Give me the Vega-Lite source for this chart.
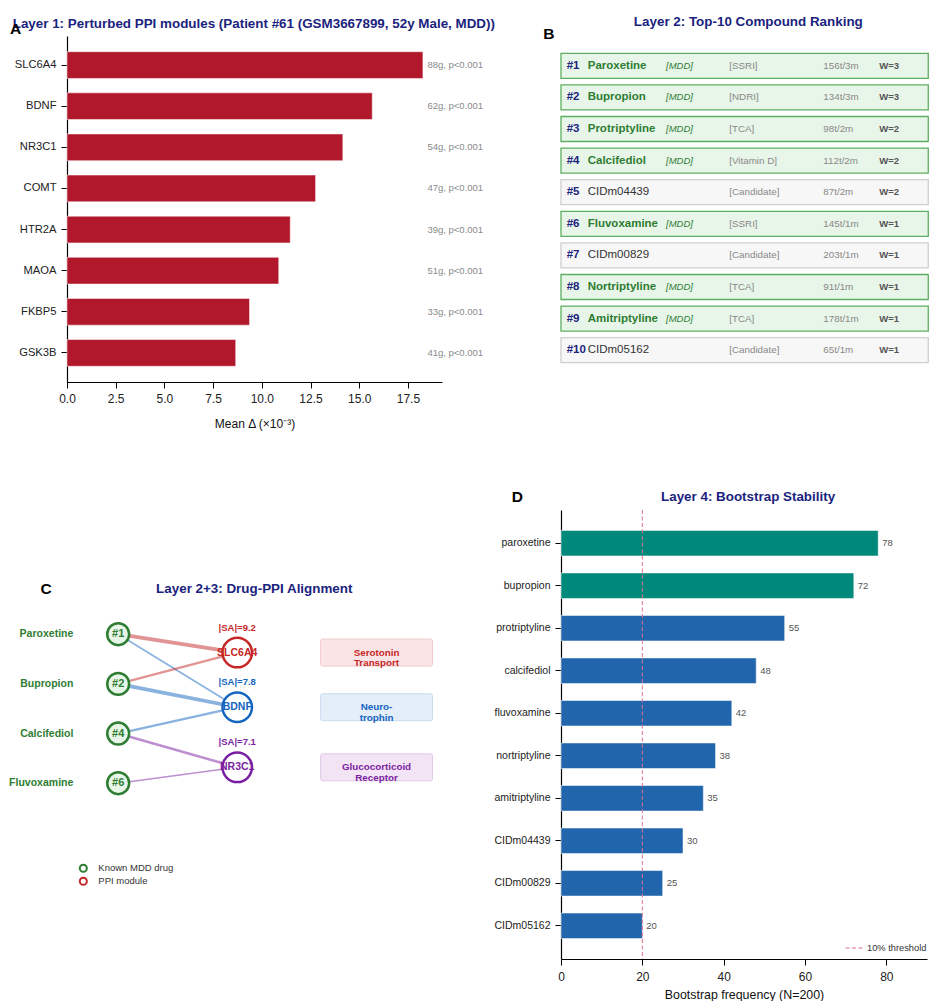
{
  "$schema": "https://vega.github.io/schema/vega-lite/v6.json",
  "padding": {"left": 9, "top": 14, "right": 0, "bottom": 0},
  "config": {
    "font": "Liberation Sans",
    "view": {"stroke": null},
    "axis": {"grid": false, "labelFlush": false, "domainColor": "#000000", "domainWidth": 1.2, "tickColor": "#000000", "tickWidth": 1, "tickSize": 6, "labelColor": "#222222", "titleColor": "#111111", "titleFontWeight": "normal"},
    "text": {"font": "Liberation Sans"}
  },
  "datasets": {
    "genes": [
      {"gene": "SLC6A4", "delta": 18.27, "note": "88g, p<0.001"},
      {"gene": "BDNF", "delta": 15.67, "note": "62g, p<0.001"},
      {"gene": "NR3C1", "delta": 14.16, "note": "54g, p<0.001"},
      {"gene": "COMT", "delta": 12.76, "note": "47g, p<0.001"},
      {"gene": "HTR2A", "delta": 11.46, "note": "39g, p<0.001"},
      {"gene": "MAOA", "delta": 10.87, "note": "51g, p<0.001"},
      {"gene": "FKBP5", "delta": 9.37, "note": "33g, p<0.001"},
      {"gene": "GSK3B", "delta": 8.66, "note": "41g, p<0.001"}
    ],
    "ranking": [
      {"rank": "#1", "name": "Paroxetine", "kind": "MDD", "tag": "[MDD]", "cls": "[SSRI]", "stats": "156t/3m", "w": "W=3"},
      {"rank": "#2", "name": "Bupropion", "kind": "MDD", "tag": "[MDD]", "cls": "[NDRI]", "stats": "134t/3m", "w": "W=3"},
      {"rank": "#3", "name": "Protriptyline", "kind": "MDD", "tag": "[MDD]", "cls": "[TCA]", "stats": "98t/2m", "w": "W=2"},
      {"rank": "#4", "name": "Calcifediol", "kind": "MDD", "tag": "[MDD]", "cls": "[Vitamin D]", "stats": "112t/2m", "w": "W=2"},
      {"rank": "#5", "name": "CIDm04439", "kind": "Candidate", "tag": "", "cls": "[Candidate]", "stats": "87t/2m", "w": "W=2"},
      {"rank": "#6", "name": "Fluvoxamine", "kind": "MDD", "tag": "[MDD]", "cls": "[SSRI]", "stats": "145t/1m", "w": "W=1"},
      {"rank": "#7", "name": "CIDm00829", "kind": "Candidate", "tag": "", "cls": "[Candidate]", "stats": "203t/1m", "w": "W=1"},
      {"rank": "#8", "name": "Nortriptyline", "kind": "MDD", "tag": "[MDD]", "cls": "[TCA]", "stats": "91t/1m", "w": "W=1"},
      {"rank": "#9", "name": "Amitriptyline", "kind": "MDD", "tag": "[MDD]", "cls": "[TCA]", "stats": "178t/1m", "w": "W=1"},
      {"rank": "#10", "name": "CIDm05162", "kind": "Candidate", "tag": "", "cls": "[Candidate]", "stats": "65t/1m", "w": "W=1"}
    ],
    "drugs": [
      {"drug": "Paroxetine", "rank": "#1", "slot": 4},
      {"drug": "Bupropion", "rank": "#2", "slot": 3},
      {"drug": "Calcifediol", "rank": "#4", "slot": 2},
      {"drug": "Fluvoxamine", "rank": "#6", "slot": 1}
    ],
    "modules": [
      {"module": "SLC6A4", "slot": 3.63, "sa": "|SA|=9.2", "category": "Serotonin\nTransport"},
      {"module": "BDNF", "slot": 2.53, "sa": "|SA|=7.8", "category": "Neuro-\ntrophin"},
      {"module": "NR3C1", "slot": 1.32, "sa": "|SA|=7.1", "category": "Glucocorticoid\nReceptor"}
    ],
    "edges": [
      {"drug": "Paroxetine", "module": "SLC6A4", "score": 0.9},
      {"drug": "Paroxetine", "module": "BDNF", "score": 0.4},
      {"drug": "Bupropion", "module": "SLC6A4", "score": 0.55},
      {"drug": "Bupropion", "module": "BDNF", "score": 0.9},
      {"drug": "Calcifediol", "module": "BDNF", "score": 0.55},
      {"drug": "Calcifediol", "module": "NR3C1", "score": 0.6},
      {"drug": "Fluvoxamine", "module": "NR3C1", "score": 0.35}
    ],
    "bootstrap": [
      {"compound": "paroxetine", "freq": 78, "tier": "top"},
      {"compound": "bupropion", "freq": 72, "tier": "top"},
      {"compound": "protriptyline", "freq": 55, "tier": "other"},
      {"compound": "calcifediol", "freq": 48, "tier": "other"},
      {"compound": "fluvoxamine", "freq": 42, "tier": "other"},
      {"compound": "nortriptyline", "freq": 38, "tier": "other"},
      {"compound": "amitriptyline", "freq": 35, "tier": "other"},
      {"compound": "CIDm04439", "freq": 30, "tier": "other"},
      {"compound": "CIDm00829", "freq": 25, "tier": "other"},
      {"compound": "CIDm05162", "freq": 20, "tier": "other"}
    ]
  },
  "columns": 2,
  "bounds": "flush",
  "align": "each",
  "spacing": {"row": 128, "column": 119},
  "resolve": {
    "scale": {"color": "independent", "fill": "independent", "stroke": "independent", "strokeDash": "independent", "strokeWidth": "independent"},
    "legend": {"strokeDash": "independent"}
  },
  "concat": [
    {
      "width": 375,
      "height": 346,
      "layer": [
        {
          "data": {"name": "genes"},
          "layer": [
            {
              "mark": {"type": "bar", "color": "#b2182b", "stroke": "#ffffff", "strokeWidth": 0.5},
              "encoding": {
                "y": {"field": "gene", "type": "nominal", "sort": null, "scale": {"paddingInner": 0.35, "paddingOuter": 0.3825}, "axis": {"title": null, "labelFontSize": 11.2, "labelPadding": 5, "tickSize": 6}},
                "x": {"field": "delta", "type": "quantitative", "scale": {"domain": [0, 19.25], "nice": false}, "axis": {"title": "Mean Δ (×10⁻³)", "values": [0, 2.5, 5, 7.5, 10, 12.5, 15, 17.5], "format": ".1f", "labelFontSize": 12, "titleFontSize": 12, "labelPadding": 5, "titlePadding": 14}}
              }
            },
            {
              "mark": {"type": "text", "align": "left", "baseline": "middle", "fontSize": 9.5, "color": "#8a8a8a"},
              "encoding": {
                "y": {"field": "gene", "type": "nominal", "sort": null},
                "x": {"datum": 18.5, "type": "quantitative"},
                "text": {"field": "note"}
              }
            }
          ]
        },
        {
          "data": {"values": [{"panel": "A", "heading": "Layer 1: Perturbed PPI modules (Patient #61 (GSM3667899, 52y Male, MDD))"}]},
          "layer": [
            {
              "mark": {"type": "text", "align": "center", "baseline": "middle", "fontSize": 13.4, "fontWeight": "bold", "color": "#1a237e"},
              "encoding": {
                "x": {"datum": 9.59, "type": "quantitative"},
                "y": {"datum": 1.0355, "type": "quantitative", "scale": {"domain": [0, 1], "nice": false, "zero": false}, "axis": null},
                "text": {"field": "heading"}
              }
            },
            {
              "mark": {"type": "text", "align": "left", "baseline": "middle", "fontSize": 15.5, "fontWeight": "bold", "color": "#000000"},
              "encoding": {
                "x": {"datum": -2.93, "type": "quantitative"},
                "y": {"datum": 1.021, "type": "quantitative", "axis": null},
                "text": {"field": "panel"}
              }
            }
          ]
        }
      ],
      "resolve": {"scale": {"y": "independent"}}
    },
    {
      "width": 368,
      "height": 330,
      "layer": [
        {
          "data": {"name": "ranking"},
          "encoding": {
            "y": {"field": "rank", "type": "nominal", "sort": null, "scale": {"paddingInner": 0.209, "paddingOuter": 0.326, "align": 0.84}, "axis": null}
          },
          "layer": [
            {
              "mark": {"type": "rect", "strokeWidth": 1.3},
              "encoding": {
                "x": {"datum": 0, "type": "quantitative", "scale": {"domain": [0, 100], "nice": false, "zero": false}, "axis": null},
                "x2": {"datum": 99.8},
                "fill": {"field": "kind", "type": "nominal", "scale": {"domain": ["MDD", "Candidate"], "range": ["#e8f5e9", "#f7f7f7"]}, "legend": null},
                "stroke": {"field": "kind", "type": "nominal", "scale": {"domain": ["MDD", "Candidate"], "range": ["#5cae60", "#cfcfcf"]}, "legend": null}
              }
            },
            {
              "mark": {"type": "text", "align": "left", "baseline": "middle", "fontSize": 11.5, "fontWeight": "bold", "color": "#1a237e"},
              "encoding": {"x": {"datum": 1.55, "type": "quantitative", "axis": null}, "text": {"field": "rank"}}
            },
            {
              "transform": [{"filter": "datum.kind === 'MDD'"}],
              "mark": {"type": "text", "align": "left", "baseline": "middle", "fontSize": 11.5, "fontWeight": "bold", "color": "#2e7d32"},
              "encoding": {"x": {"datum": 7.26, "type": "quantitative", "axis": null}, "text": {"field": "name"}}
            },
            {
              "transform": [{"filter": "datum.kind === 'Candidate'"}],
              "mark": {"type": "text", "align": "left", "baseline": "middle", "fontSize": 11.5, "color": "#333333"},
              "encoding": {"x": {"datum": 7.26, "type": "quantitative", "axis": null}, "text": {"field": "name"}}
            },
            {
              "mark": {"type": "text", "align": "left", "baseline": "middle", "fontSize": 9.5, "fontStyle": "italic", "color": "#2e7d32"},
              "encoding": {"x": {"datum": 28.53, "type": "quantitative", "axis": null}, "text": {"field": "tag"}}
            },
            {
              "mark": {"type": "text", "align": "left", "baseline": "middle", "fontSize": 9.8, "color": "#888888"},
              "encoding": {"x": {"datum": 45.73, "type": "quantitative", "axis": null}, "text": {"field": "cls"}}
            },
            {
              "mark": {"type": "text", "align": "left", "baseline": "middle", "fontSize": 9.8, "color": "#888888"},
              "encoding": {"x": {"datum": 71.28, "type": "quantitative", "axis": null}, "text": {"field": "stats"}}
            },
            {
              "mark": {"type": "text", "align": "left", "baseline": "middle", "fontSize": 9.5, "fontWeight": "bold", "color": "#555555"},
              "encoding": {"x": {"datum": 86.5, "type": "quantitative", "axis": null}, "text": {"field": "w"}}
            }
          ]
        },
        {
          "data": {"values": [{"panel": "B", "heading": "Layer 2: Top-10 Compound Ranking"}]},
          "layer": [
            {
              "mark": {"type": "text", "align": "center", "baseline": "middle", "fontSize": 13.4, "fontWeight": "bold", "color": "#1a237e"},
              "encoding": {
                "x": {"datum": 50.9, "type": "quantitative", "axis": null},
                "y": {"datum": 1.0433, "type": "quantitative", "scale": {"domain": [0, 1], "nice": false, "zero": false}, "axis": null},
                "text": {"field": "heading"}
              }
            },
            {
              "mark": {"type": "text", "align": "left", "baseline": "middle", "fontSize": 15.5, "fontWeight": "bold", "color": "#000000"},
              "encoding": {
                "x": {"datum": -4.81, "type": "quantitative", "axis": null},
                "y": {"datum": 1.005, "type": "quantitative", "axis": null},
                "text": {"field": "panel"}
              }
            }
          ]
        }
      ],
      "resolve": {"scale": {"y": "independent"}}
    },
    {
      "width": 375,
      "height": 390,
      "layer": [
        {
          "data": {"name": "edges"},
          "transform": [
            {"lookup": "drug", "from": {"data": {"name": "drugs"}, "key": "drug", "fields": ["slot"]}, "as": ["dslot"]},
            {"lookup": "module", "from": {"data": {"name": "modules"}, "key": "module", "fields": ["slot"]}, "as": ["mslot"]}
          ],
          "mark": {"type": "rule", "opacity": 0.5, "strokeCap": "butt"},
          "encoding": {
            "x": {"datum": 1, "type": "quantitative", "scale": {"domain": [0.57, 3.72], "nice": false, "zero": false}, "axis": null},
            "x2": {"datum": 2},
            "y": {"field": "dslot", "type": "quantitative", "scale": {"domain": [-1.25, 6.4], "nice": false, "zero": false}, "axis": null},
            "y2": {"field": "mslot"},
            "color": {"field": "module", "type": "nominal", "scale": {"domain": ["SLC6A4", "BDNF", "NR3C1"], "range": ["#c62828", "#1565c0", "#7b1fa2"]}, "legend": null},
            "strokeWidth": {"field": "score", "type": "quantitative", "scale": {"domain": [0, 1], "range": [0, 4.2]}, "legend": null}
          }
        },
        {
          "data": {"name": "modules"},
          "mark": {"type": "bar", "orient": "horizontal", "height": 27, "strokeWidth": 1, "cornerRadius": 2},
          "encoding": {
            "x": {"datum": 2.7, "type": "quantitative", "axis": null},
            "x2": {"datum": 3.64},
            "y": {"field": "slot", "type": "quantitative", "axis": null},
            "fill": {"field": "module", "type": "nominal", "scale": {"domain": ["SLC6A4", "BDNF", "NR3C1"], "range": ["#fbe4e6", "#e4eef8", "#f2e4f4"]}, "legend": null},
            "stroke": {"field": "module", "type": "nominal", "scale": {"domain": ["SLC6A4", "BDNF", "NR3C1"], "range": ["#f2c9cd", "#c9dcef", "#e2c8e8"]}, "legend": null}
          }
        },
        {
          "data": {"name": "modules"},
          "mark": {"type": "text", "align": "center", "baseline": "middle", "fontSize": 9.8, "fontWeight": "bold", "lineBreak": "\n", "lineHeight": 10.5},
          "encoding": {
            "x": {"datum": 3.17, "type": "quantitative", "axis": null},
            "y": {"field": "slot", "type": "quantitative", "axis": null},
            "text": {"field": "category"},
            "color": {"field": "module", "type": "nominal", "legend": null}
          }
        },
        {
          "data": {"name": "modules"},
          "mark": {"type": "point", "shape": "circle", "filled": true, "color": "#ffffff", "opacity": 1, "size": 870},
          "encoding": {
            "x": {"datum": 2, "type": "quantitative", "axis": null},
            "y": {"field": "slot", "type": "quantitative", "axis": null}
          }
        },
        {
          "data": {"name": "modules"},
          "mark": {"type": "point", "shape": "circle", "filled": false, "opacity": 1, "size": 870, "strokeWidth": 2.5},
          "encoding": {
            "x": {"datum": 2, "type": "quantitative", "axis": null},
            "y": {"field": "slot", "type": "quantitative", "axis": null},
            "color": {"field": "module", "type": "nominal", "legend": null}
          }
        },
        {
          "data": {"name": "modules"},
          "mark": {"type": "text", "align": "center", "baseline": "middle", "fontSize": 10.5, "fontWeight": "bold"},
          "encoding": {
            "x": {"datum": 2, "type": "quantitative", "axis": null},
            "y": {"field": "slot", "type": "quantitative", "axis": null},
            "text": {"field": "module"},
            "color": {"field": "module", "type": "nominal", "legend": null}
          }
        },
        {
          "data": {"name": "modules"},
          "mark": {"type": "text", "align": "center", "baseline": "middle", "fontSize": 9.5, "fontWeight": "bold", "dy": -25},
          "encoding": {
            "x": {"datum": 2, "type": "quantitative", "axis": null},
            "y": {"field": "slot", "type": "quantitative", "axis": null},
            "text": {"field": "sa"},
            "color": {"field": "module", "type": "nominal", "legend": null}
          }
        },
        {
          "data": {"name": "drugs"},
          "mark": {"type": "point", "shape": "circle", "filled": true, "fill": "#e8f5e9", "stroke": "#2e7d32", "strokeWidth": 2.5, "opacity": 1, "size": 480},
          "encoding": {
            "x": {"datum": 1, "type": "quantitative", "axis": null},
            "y": {"field": "slot", "type": "quantitative", "axis": null}
          }
        },
        {
          "data": {"name": "drugs"},
          "mark": {"type": "text", "align": "center", "baseline": "middle", "fontSize": 11, "fontWeight": "bold", "color": "#2e7d32"},
          "encoding": {
            "x": {"datum": 1, "type": "quantitative", "axis": null},
            "y": {"field": "slot", "type": "quantitative", "axis": null},
            "text": {"field": "rank"}
          }
        },
        {
          "data": {"name": "drugs"},
          "mark": {"type": "text", "align": "right", "baseline": "middle", "fontSize": 10.5, "fontWeight": "bold", "color": "#2e7d32"},
          "encoding": {
            "x": {"datum": 0.623, "type": "quantitative", "axis": null},
            "y": {"field": "slot", "type": "quantitative", "axis": null},
            "text": {"field": "drug"}
          }
        },
        {
          "data": {"values": [{"panel": "C", "heading": "Layer 2+3: Drug-PPI Alignment"}]},
          "layer": [
            {
              "mark": {"type": "text", "align": "center", "baseline": "middle", "fontSize": 13.4, "fontWeight": "bold", "color": "#1a237e"},
              "encoding": {
                "x": {"datum": 2.143, "type": "quantitative", "axis": null},
                "y": {"datum": 4.92, "type": "quantitative", "axis": null},
                "text": {"field": "heading"}
              }
            },
            {
              "mark": {"type": "text", "align": "center", "baseline": "middle", "fontSize": 15.5, "fontWeight": "bold", "color": "#000000"},
              "encoding": {
                "x": {"datum": 0.395, "type": "quantitative", "axis": null},
                "y": {"datum": 4.92, "type": "quantitative", "axis": null},
                "text": {"field": "panel"}
              }
            }
          ]
        },
        {
          "data": {"values": [{"label": "Known MDD drug"}]},
          "layer": [
            {
              "mark": {"type": "point", "shape": "circle", "filled": false, "color": "#2e7d32", "strokeWidth": 2, "opacity": 1, "size": 50},
              "encoding": {
                "x": {"datum": 0.707, "type": "quantitative", "axis": null},
                "y": {"datum": -0.711, "type": "quantitative", "axis": null}
              }
            },
            {
              "mark": {"type": "text", "align": "left", "baseline": "middle", "fontSize": 9.5, "color": "#333333"},
              "encoding": {
                "x": {"datum": 0.833, "type": "quantitative", "axis": null},
                "y": {"datum": -0.711, "type": "quantitative", "axis": null},
                "text": {"field": "label"}
              }
            }
          ]
        },
        {
          "data": {"values": [{"label": "PPI module"}]},
          "layer": [
            {
              "mark": {"type": "point", "shape": "circle", "filled": false, "color": "#c62828", "strokeWidth": 2, "opacity": 1, "size": 50},
              "encoding": {
                "x": {"datum": 0.707, "type": "quantitative", "axis": null},
                "y": {"datum": -0.973, "type": "quantitative", "axis": null}
              }
            },
            {
              "mark": {"type": "text", "align": "left", "baseline": "middle", "fontSize": 9.5, "color": "#333333"},
              "encoding": {
                "x": {"datum": 0.833, "type": "quantitative", "axis": null},
                "y": {"datum": -0.973, "type": "quantitative", "axis": null},
                "text": {"field": "label"}
              }
            }
          ]
        }
      ]
    },
    {
      "width": 366,
      "height": 449,
      "layer": [
        {
          "data": {"name": "bootstrap"},
          "layer": [
            {
              "mark": {"type": "bar", "stroke": "#ffffff", "strokeWidth": 0.5},
              "encoding": {
                "y": {"field": "compound", "type": "nominal", "sort": null, "scale": {"paddingInner": 0.4, "paddingOuter": 0.48}, "axis": {"title": null, "labelFontSize": 10.5, "labelPadding": 5, "tickSize": 6}},
                "x": {"field": "freq", "type": "quantitative", "scale": {"domain": [0, 90], "nice": false}, "axis": {"title": "Bootstrap frequency (N=200)", "values": [0, 20, 40, 60, 80], "labelFontSize": 12, "titleFontSize": 12.4, "labelPadding": 6, "titlePadding": 6}},
                "color": {"field": "tier", "type": "nominal", "scale": {"domain": ["top", "other"], "range": ["#00897b", "#2166ac"]}, "legend": null}
              }
            },
            {
              "mark": {"type": "text", "align": "left", "baseline": "middle", "dx": 4, "fontSize": 9.5, "color": "#555555"},
              "encoding": {
                "y": {"field": "compound", "type": "nominal", "sort": null},
                "x": {"field": "freq", "type": "quantitative"},
                "text": {"field": "freq"}
              }
            },
            {
              "data": {"values": [{"threshold": 20, "label": "10% threshold"}]},
              "mark": {"type": "rule", "color": "#e0708c", "strokeWidth": 1},
              "encoding": {
                "x": {"field": "threshold", "type": "quantitative"},
                "strokeDash": {"field": "label", "type": "nominal", "scale": {"range": [[4, 2.5]]}, "legend": {"title": null, "orient": "none", "legendX": 284, "legendY": 429, "symbolType": "stroke", "symbolStrokeColor": "#e0708c", "symbolStrokeWidth": 1, "symbolSize": 289, "labelFontSize": 9.3, "labelColor": "#333333", "padding": 0}}
              }
            }
          ]
        },
        {
          "data": {"values": [{"panel": "D", "heading": "Layer 4: Bootstrap Stability"}]},
          "layer": [
            {
              "mark": {"type": "text", "align": "center", "baseline": "middle", "fontSize": 13.4, "fontWeight": "bold", "color": "#1a237e"},
              "encoding": {
                "x": {"datum": 46, "type": "quantitative"},
                "y": {"datum": 1.028, "type": "quantitative", "scale": {"domain": [0, 1], "nice": false, "zero": false}, "axis": null},
                "text": {"field": "heading"}
              }
            },
            {
              "mark": {"type": "text", "align": "left", "baseline": "middle", "fontSize": 15.5, "fontWeight": "bold", "color": "#000000"},
              "encoding": {
                "x": {"datum": -12.1, "type": "quantitative"},
                "y": {"datum": 1.028, "type": "quantitative", "axis": null},
                "text": {"field": "panel"}
              }
            }
          ]
        }
      ],
      "resolve": {"scale": {"y": "independent"}}
    }
  ]
}
